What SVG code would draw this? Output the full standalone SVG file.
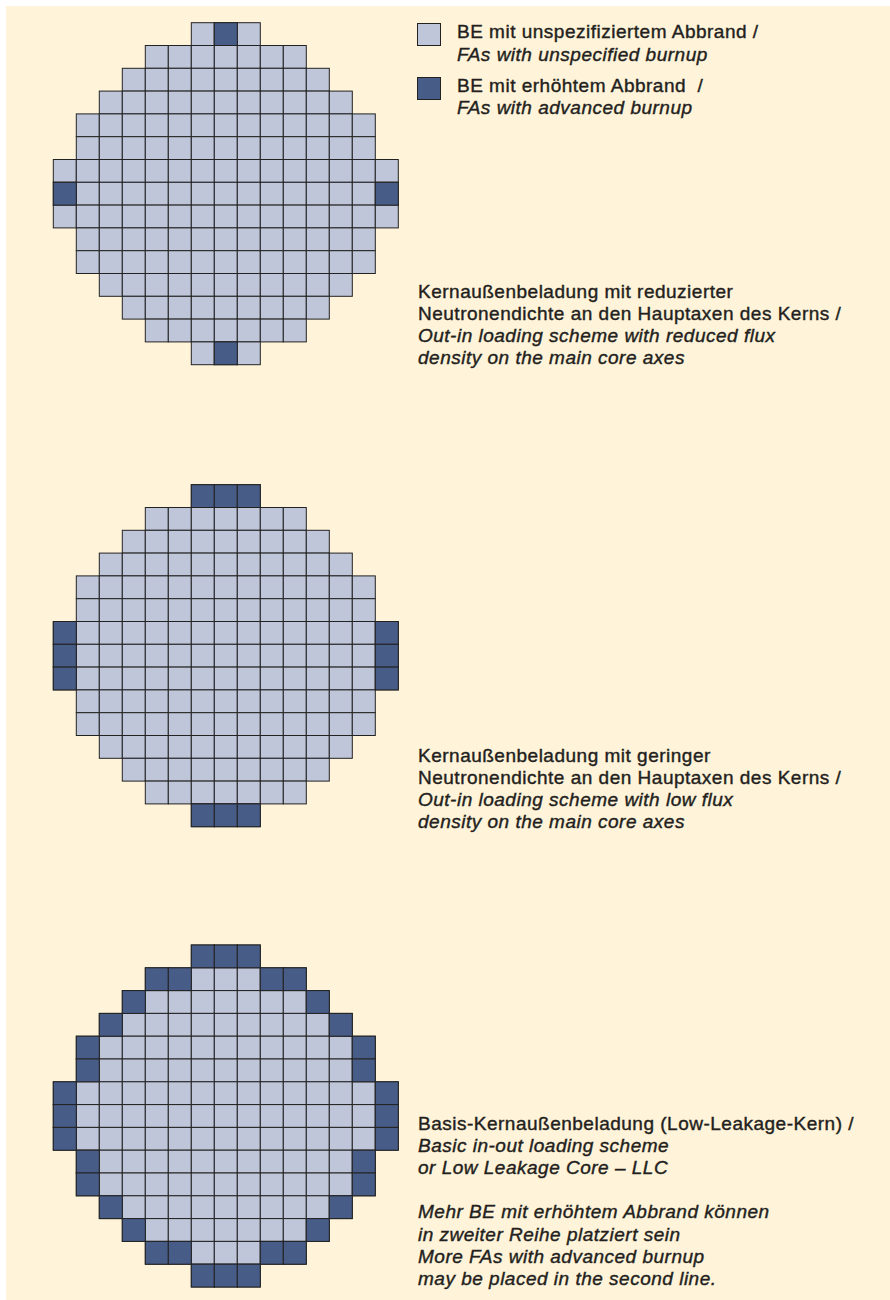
<svg xmlns="http://www.w3.org/2000/svg" xmlns:xlink="http://www.w3.org/1999/xlink" width="890" height="1300" viewBox="0 0 890 1300">
<style>
.bg{fill:#fff3d9}
.light{fill:#c0c6d9;stroke:#222;stroke-width:1}
.dark{fill:#485c88;stroke:#222;stroke-width:1}
.t{font-family:"Liberation Sans",Arial,Helvetica,sans-serif;font-size:19px;letter-spacing:0.5px;fill:#231f20;stroke:#231f20;stroke-width:0.4px}
.i{font-style:italic}
</style>
<defs>
<rect id="c" width="23" height="22.8"/>
<g id="r3"><use href="#c"/><use href="#c" x="23"/><use href="#c" x="46"/></g>
<g id="r7"><use href="#r3"/><use href="#r3" x="69"/><use href="#c" x="138"/></g>
<g id="r9"><use href="#r7"/><use href="#c" x="161"/><use href="#c" x="184"/></g>
<g id="r11"><use href="#r9"/><use href="#c" x="207"/><use href="#c" x="230"/></g>
<g id="r13"><use href="#r11"/><use href="#c" x="253"/><use href="#c" x="276"/></g>
<g id="r15"><use href="#r13"/><use href="#c" x="299"/><use href="#c" x="322"/></g>
<g id="base" class="light">
<use href="#r3" x="138" y="0"/>
<use href="#r7" x="92" y="22.8"/>
<use href="#r9" x="69" y="45.6"/>
<use href="#r11" x="46" y="68.4"/>
<use href="#r13" x="23" y="91.2"/>
<use href="#r13" x="23" y="114"/>
<use href="#r15" x="0" y="136.8"/>
<use href="#r15" x="0" y="159.6"/>
<use href="#r15" x="0" y="182.4"/>
<use href="#r13" x="23" y="205.2"/>
<use href="#r13" x="23" y="228"/>
<use href="#r11" x="46" y="250.8"/>
<use href="#r9" x="69" y="273.6"/>
<use href="#r7" x="92" y="296.4"/>
<use href="#r3" x="138" y="319.2"/>
</g>
</defs>
<rect class="bg" x="6" y="6" width="884" height="1294"/>

<g id="legend">
<rect class="light" x="417.5" y="23.5" width="23" height="22"/>
<rect class="dark" x="417.5" y="77.5" width="23" height="22"/>
<text class="t" x="457" y="37.5">BE mit unspezifiziertem Abbrand /</text>
<text class="t i" x="457" y="60.7">FAs with unspecified burnup</text>
<text class="t" x="457" y="91.7" style="white-space:pre">BE mit erhöhtem Abbrand  /</text>
<text class="t i" x="457" y="114">FAs with advanced burnup</text>
</g>

<g id="core1" transform="translate(53.3,22.7)">
<use href="#base"/>
<g class="dark">
<rect x="161" y="0" width="23" height="22.8"/>
<rect x="0" y="159.6" width="23" height="22.8"/>
<rect x="322" y="159.6" width="23" height="22.8"/>
<rect x="161" y="319.2" width="23" height="22.8"/>
</g>
</g>
<g id="label1">
<text class="t" x="418" y="298.3">Kernaußenbeladung mit reduzierter</text>
<text class="t" x="418" y="320.3">Neutronendichte an den Hauptaxen des Kerns /</text>
<text class="t i" x="418" y="342.3">Out-in loading scheme with reduced flux</text>
<text class="t i" x="418" y="364.3">density on the main core axes</text>
</g>

<g id="core2" transform="translate(53.3,484.7)">
<use href="#base"/>
<g class="dark">
<rect x="138" y="0" width="23" height="22.8"/>
<rect x="161" y="0" width="23" height="22.8"/>
<rect x="184" y="0" width="23" height="22.8"/>
<rect x="0" y="136.8" width="23" height="22.8"/>
<rect x="0" y="159.6" width="23" height="22.8"/>
<rect x="0" y="182.4" width="23" height="22.8"/>
<rect x="322" y="136.8" width="23" height="22.8"/>
<rect x="322" y="159.6" width="23" height="22.8"/>
<rect x="322" y="182.4" width="23" height="22.8"/>
<rect x="138" y="319.2" width="23" height="22.8"/>
<rect x="161" y="319.2" width="23" height="22.8"/>
<rect x="184" y="319.2" width="23" height="22.8"/>
</g>
</g>
<g id="label2">
<text class="t" x="418" y="761.5">Kernaußenbeladung mit geringer</text>
<text class="t" x="418" y="783.5">Neutronendichte an den Hauptaxen des Kerns /</text>
<text class="t i" x="418" y="805.5">Out-in loading scheme with low flux</text>
<text class="t i" x="418" y="827.5">density on the main core axes</text>
</g>

<g id="core3" transform="translate(53.3,945)">
<use href="#base"/>
<g class="dark">
<rect x="138" y="0" width="23" height="22.8"/>
<rect x="161" y="0" width="23" height="22.8"/>
<rect x="184" y="0" width="23" height="22.8"/>
<rect x="92" y="22.8" width="23" height="22.8"/>
<rect x="115" y="22.8" width="23" height="22.8"/>
<rect x="207" y="22.8" width="23" height="22.8"/>
<rect x="230" y="22.8" width="23" height="22.8"/>
<rect x="69" y="45.6" width="23" height="22.8"/>
<rect x="253" y="45.6" width="23" height="22.8"/>
<rect x="46" y="68.4" width="23" height="22.8"/>
<rect x="276" y="68.4" width="23" height="22.8"/>
<rect x="23" y="91.2" width="23" height="22.8"/>
<rect x="299" y="91.2" width="23" height="22.8"/>
<rect x="23" y="114" width="23" height="22.8"/>
<rect x="299" y="114" width="23" height="22.8"/>
<rect x="0" y="136.8" width="23" height="22.8"/>
<rect x="322" y="136.8" width="23" height="22.8"/>
<rect x="0" y="159.6" width="23" height="22.8"/>
<rect x="322" y="159.6" width="23" height="22.8"/>
<rect x="0" y="182.4" width="23" height="22.8"/>
<rect x="322" y="182.4" width="23" height="22.8"/>
<rect x="23" y="205.2" width="23" height="22.8"/>
<rect x="299" y="205.2" width="23" height="22.8"/>
<rect x="23" y="228" width="23" height="22.8"/>
<rect x="299" y="228" width="23" height="22.8"/>
<rect x="46" y="250.8" width="23" height="22.8"/>
<rect x="276" y="250.8" width="23" height="22.8"/>
<rect x="69" y="273.6" width="23" height="22.8"/>
<rect x="253" y="273.6" width="23" height="22.8"/>
<rect x="92" y="296.4" width="23" height="22.8"/>
<rect x="115" y="296.4" width="23" height="22.8"/>
<rect x="207" y="296.4" width="23" height="22.8"/>
<rect x="230" y="296.4" width="23" height="22.8"/>
<rect x="138" y="319.2" width="23" height="22.8"/>
<rect x="161" y="319.2" width="23" height="22.8"/>
<rect x="184" y="319.2" width="23" height="22.8"/>
</g>
</g>
<g id="label3">
<text class="t" x="418" y="1129.5">Basis-Kernaußenbeladung (Low-Leakage-Kern) /</text>
<text class="t i" x="418" y="1151.7">Basic in-out loading scheme</text>
<text class="t i" x="418" y="1173.9">or Low Leakage Core – LLC</text>
<text class="t i" x="418" y="1218.3">Mehr BE mit erhöhtem Abbrand können</text>
<text class="t i" x="418" y="1240.5">in zweiter Reihe platziert sein</text>
<text class="t i" x="418" y="1262.7">More FAs with advanced burnup</text>
<text class="t i" x="418" y="1285">may be placed in the second line.</text>
</g>
</svg>
